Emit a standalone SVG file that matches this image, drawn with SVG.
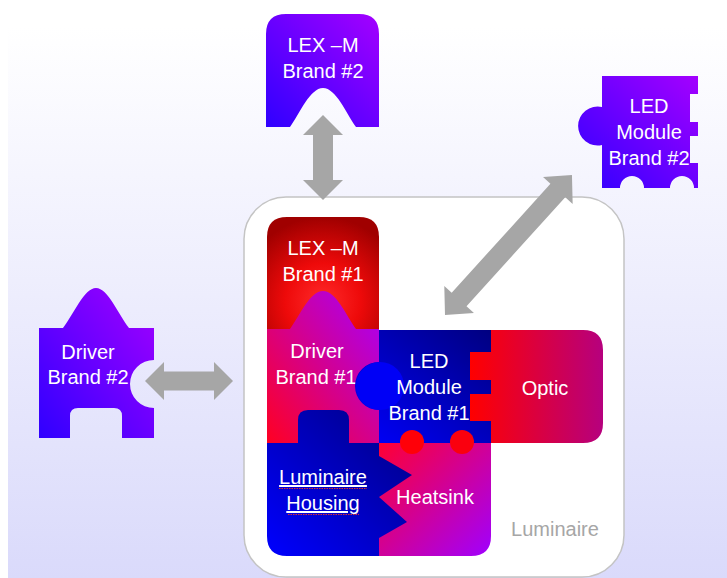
<svg xmlns="http://www.w3.org/2000/svg" width="727" height="578" viewBox="0 0 727 578">
<defs>
  <linearGradient id="bg" x1="0" y1="0" x2="0" y2="1">
    <stop offset="0" stop-color="#ffffff"/>
    <stop offset="1" stop-color="#dadafb"/>
  </linearGradient>
  <linearGradient id="violet" x1="0" y1="1" x2="1" y2="0">
    <stop offset="0" stop-color="#2f00ff"/>
    <stop offset="1" stop-color="#a400ff"/>
  </linearGradient>
  <radialGradient id="redRad" cx="0.5" cy="0.75" r="0.75">
    <stop offset="0" stop-color="#ff2a2a"/>
    <stop offset="0.45" stop-color="#ee0a0a"/>
    <stop offset="1" stop-color="#a00000"/>
  </radialGradient>
  <linearGradient id="driver1" x1="0" y1="1" x2="1" y2="0">
    <stop offset="0" stop-color="#ff0022"/>
    <stop offset="1" stop-color="#a600ff"/>
  </linearGradient>
  <linearGradient id="blueG" x1="0" y1="1" x2="1" y2="0">
    <stop offset="0" stop-color="#0000ff"/>
    <stop offset="1" stop-color="#000080"/>
  </linearGradient>
  <linearGradient id="opticG" x1="0" y1="0" x2="1" y2="0">
    <stop offset="0" stop-color="#ff0000"/>
    <stop offset="1" stop-color="#b6007e"/>
  </linearGradient>
  <linearGradient id="heatG" x1="0" y1="0" x2="1" y2="1">
    <stop offset="0" stop-color="#ff0033"/>
    <stop offset="1" stop-color="#a000ff"/>
  </linearGradient>
  <style>
    .t { font-family: "Liberation Sans", Arial, sans-serif; font-size: 20px; fill: #ffffff; text-anchor: middle; }
    .lbl { font-family: "Liberation Sans", Arial, sans-serif; font-size: 20px; fill: #a6a6a6; text-anchor: middle; }
    .arrow { fill: #a6a6a6; }
    .squig { fill: none; stroke: #e03030; stroke-width: 1; stroke-dasharray: 1.5 1; }
  </style>
</defs>

<rect x="0" y="0" width="727" height="578" fill="#ffffff"/>
<rect x="8" y="27" width="719" height="551" fill="url(#bg)"/>

<g id="luminaire">
  <rect x="244" y="197" width="380" height="380" rx="42" ry="42" fill="#ffffff" stroke="#c4c4c4" stroke-width="1.5"/>
  <text class="lbl" x="555" y="536">Luminaire</text>
</g>

<g id="lexm-brand2">
  <path d="M266,127 L266,34 Q266,14 286,14 L359,14 Q379,14 379,34 L379,127 L356,127 C346,113 336,88 323,88 C310,88 300,113 290,127 Z" fill="url(#violet)"/>
  <text class="t" x="323" y="52">LEX –M</text>
  <text class="t" x="323" y="78">Brand #2</text>
</g>

<g id="ledmodule-brand2">
  <path d="M602,76 L698,76 L698,94 L690,94 L690,122 L698,122 L698,136 L690,136 L690,163 L698,163 L698,188 L694,188 A12,12 0 0 0 670,188 L644,188 A12,12 0 0 0 620,188 L602,188 L602,145 A19.5,19.5 0 1 1 602,107 Z" fill="url(#violet)"/>
  <text class="t" x="649" y="113">LED</text>
  <text class="t" x="649" y="139">Module</text>
  <text class="t" x="649" y="165">Brand #2</text>
</g>

<g id="driver-brand2">
  <path d="M39,438 L39,328 L63,328 C74,314 84,288 96,288 C108,288 118,314 129,328 L154,328 L154,360 A24,24 0 0 0 154,408 L154,438 L122,438 L122,416 Q122,408 114,408 L78,408 Q70,408 70,416 L70,438 Z" fill="url(#violet)"/>
  <text class="t" x="88" y="359">Driver</text>
  <text class="t" x="88" y="384">Brand #2</text>
</g>

<g id="lexm-brand1">
  <path d="M267,329 L267,237 Q267,217 287,217 L359,217 Q379,217 379,237 L379,329 Z" fill="url(#redRad)"/>
  <text class="t" x="323" y="255">LEX –M</text>
  <text class="t" x="323" y="281">Brand #1</text>
</g>

<g id="driver-brand1">
  <path d="M267,443 L267,329 L290,329 C300,315 310,291 323,291 C336,291 346,315 356,329 L379,329 L379,443 Z" fill="url(#driver1)"/>
  <text class="t" x="317" y="358">Driver</text>
  <text class="t" x="316" y="384">Brand #1</text>
</g>

<g id="heatsink">
  <path d="M379,443 L491,443 L491,536 Q491,556 471,556 L379,556 Z" fill="url(#heatG)"/>
  <text class="t" x="435" y="504">Heatsink</text>
</g>

<g id="ledmodule-brand1">
  <path d="M379,330 L491,330 L491,443 L379,443 L379,410 A24,24 0 0 1 379,362 Z" fill="url(#blueG)"/>
  <circle cx="380" cy="386" r="24" fill="#0000f6"/>
</g>

<g id="optic">
  <path d="M470,352 L491,352 L491,330 L583,330 Q603,330 603,350 L603,423 Q603,443 583,443 L491,443 L491,421 L470,421 L470,394 L491,394 L491,380 L470,380 Z" fill="url(#opticG)"/>
  <text class="t" x="545" y="395">Optic</text>
</g>

<g id="heatsink-pins">
  <circle cx="412" cy="442" r="12" fill="#ff0008"/>
  <circle cx="462" cy="442" r="12" fill="#fa000e"/>
</g>

<g id="ledmodule-brand1-text">
  <text class="t" x="429" y="368">LED</text>
  <text class="t" x="429" y="394">Module</text>
  <text class="t" x="429" y="420">Brand #1</text>
</g>

<g id="luminaire-housing">
  <path d="M267,443 L298,443 L298,420 Q298,410 308,410 L339,410 Q349,410 349,420 L349,443 L379,443 L379,456 L412,475 L379,497 L407,522 L379,538 L379,556 L287,556 Q267,556 267,536 Z" fill="url(#blueG)"/>
  <text class="t" x="323" y="484" text-decoration="underline">Luminaire</text>
  <text class="t" x="323" y="510" text-decoration="underline">Housing</text>
  <path class="squig" d="M279,488.5 L367,488.5 M288,514.5 L359,514.5"/>
</g>

<g id="connectors">
  <polygon class="arrow" points="323,115 343,135 333,135 333,180 343,180 323,200 303,180 313,180 313,135 303,135"/>
  <polygon class="arrow" points="145,381 164,362 164,371.5 214,371.5 214,362 233,381 214,400 214,390.5 164,390.5 164,400"/>
  <polygon class="arrow" transform="translate(445,315) rotate(-47.8)" points="0,0 21,-20 21,-10 168,-10 168,-20 189,0 168,20 168,10 21,10 21,20"/>
</g>
</svg>
